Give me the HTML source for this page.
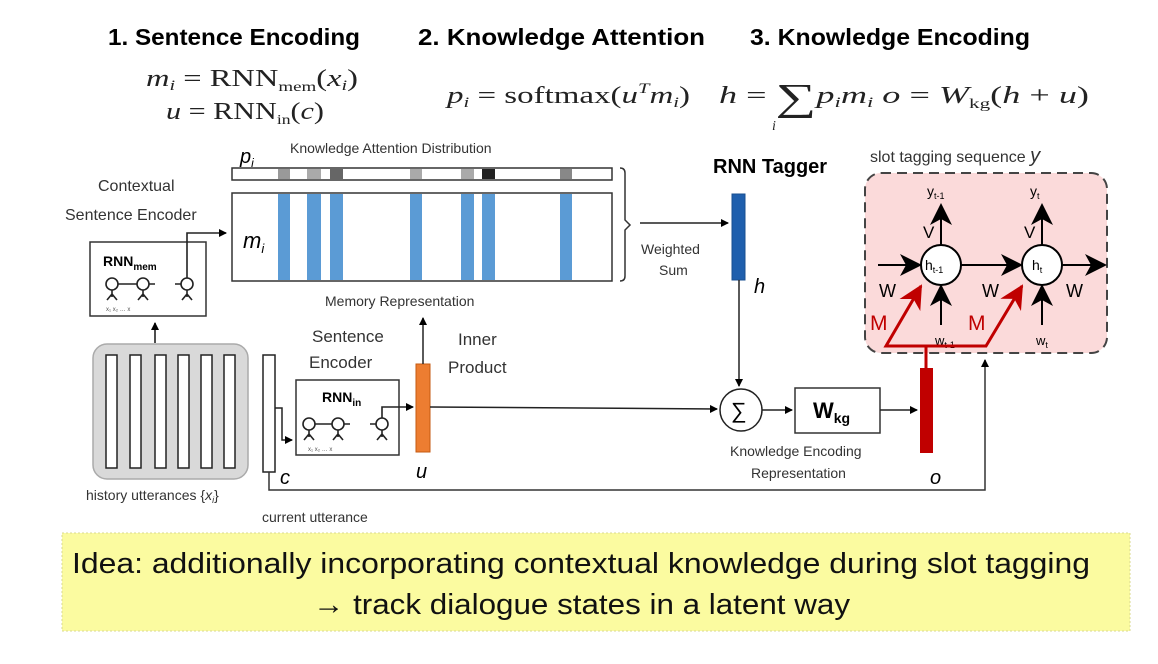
<!DOCTYPE html>
<html><head><meta charset="utf-8"><style>
html,body{margin:0;padding:0;background:#fff;}
svg{display:block;}
text{font-family:"Liberation Sans",sans-serif;}
.s{font-family:"Liberation Serif",serif;}
</style></head><body>
<svg width="1158" height="664" viewBox="0 0 1158 664" xmlns="http://www.w3.org/2000/svg">
<defs>
<marker id="a" markerWidth="8" markerHeight="8" refX="7" refY="4" orient="auto" markerUnits="userSpaceOnUse"><path d="M0,0 L8,4 L0,8 z" fill="#000"/></marker>
<marker id="big" markerWidth="22" markerHeight="22" refX="20" refY="11" orient="auto" markerUnits="userSpaceOnUse"><path d="M0,0 L22,11 L0,22 L6,11 z" fill="#000"/></marker>
<marker id="red" markerWidth="24" markerHeight="24" refX="22" refY="12" orient="auto" markerUnits="userSpaceOnUse"><path d="M0,0 L24,12 L0,24 L7,12 z" fill="#c00000"/></marker>
</defs>
<rect width="1158" height="664" fill="#fff"/>
<text x="108" y="45" font-size="23" font-weight="bold" textLength="252" lengthAdjust="spacingAndGlyphs">1. Sentence Encoding</text>
<text x="418" y="45" font-size="23" font-weight="bold" textLength="287" lengthAdjust="spacingAndGlyphs">2. Knowledge Attention</text>
<text x="750" y="45" font-size="23" font-weight="bold" textLength="280" lengthAdjust="spacingAndGlyphs">3. Knowledge Encoding</text>
<g fill="#222">
<text class="s" x="146" y="86" font-size="24" textLength="212" lengthAdjust="spacingAndGlyphs"><tspan font-style="italic">m</tspan><tspan font-size="15" dy="4" font-style="italic">i</tspan><tspan dy="-4"> = RNN</tspan><tspan font-size="14" dy="5">mem</tspan><tspan dy="-5">(</tspan><tspan font-style="italic">x</tspan><tspan font-size="15" dy="4" font-style="italic">i</tspan><tspan dy="-4">)</tspan></text>
<text class="s" x="166" y="119" font-size="24" textLength="158" lengthAdjust="spacingAndGlyphs"><tspan font-style="italic">u</tspan> = RNN<tspan font-size="14" dy="5">in</tspan><tspan dy="-5">(</tspan><tspan font-style="italic">c</tspan>)</text>
<text class="s" x="447" y="103" font-size="24" textLength="243" lengthAdjust="spacingAndGlyphs"><tspan font-style="italic">p</tspan><tspan font-size="15" dy="4" font-style="italic">i</tspan><tspan dy="-4"> = softmax(</tspan><tspan font-style="italic">u</tspan><tspan font-size="15" dy="-10" font-style="italic">T</tspan><tspan dy="10" font-style="italic">m</tspan><tspan font-size="15" dy="4" font-style="italic">i</tspan><tspan dy="-4">)</tspan></text>
<text class="s" x="719" y="103" font-size="24" textLength="370" lengthAdjust="spacingAndGlyphs"><tspan font-style="italic">h</tspan> = <tspan font-size="38" dy="7">∑</tspan><tspan dy="-7" font-style="italic">p</tspan><tspan font-size="15" dy="4" font-style="italic">i</tspan><tspan dy="-4" font-style="italic">m</tspan><tspan font-size="15" dy="4" font-style="italic">i</tspan><tspan dy="-4">  </tspan><tspan font-style="italic">o</tspan> = <tspan font-style="italic">W</tspan><tspan font-size="14" dy="5">kg</tspan><tspan dy="-5">(</tspan><tspan font-style="italic">h</tspan> + <tspan font-style="italic">u</tspan>)</text>
<text class="s" x="772" y="130" font-size="14" font-style="italic">i</text>
</g>
<text x="240" y="163" font-size="20" font-style="italic">p<tspan font-size="12" dy="4">i</tspan></text>
<text x="290" y="153" font-size="14" fill="#333">Knowledge Attention Distribution</text>
<rect x="232" y="168" width="380" height="12" fill="#fff" stroke="#333" stroke-width="1.5"/>
<g>
<rect x="278" y="169" width="12" height="10" fill="#999"/>
<rect x="307" y="169" width="14" height="10" fill="#aaa"/>
<rect x="330" y="169" width="13" height="10" fill="#666"/>
<rect x="410" y="169" width="12" height="10" fill="#aaa"/>
<rect x="461" y="169" width="13" height="10" fill="#aaa"/>
<rect x="482" y="169" width="13" height="10" fill="#222"/>
<rect x="560" y="169" width="12" height="10" fill="#888"/>
</g>
<rect x="232" y="193" width="380" height="88" fill="#fff" stroke="#333" stroke-width="1.5"/>
<g fill="#5b9bd5">
<rect x="278" y="194" width="12" height="86"/>
<rect x="307" y="194" width="14" height="86"/>
<rect x="330" y="194" width="13" height="86"/>
<rect x="410" y="194" width="12" height="86"/>
<rect x="461" y="194" width="13" height="86"/>
<rect x="482" y="194" width="13" height="86"/>
<rect x="560" y="194" width="12" height="86"/>
</g>
<text x="243" y="248" font-size="22" font-style="italic">m<tspan font-size="13" dy="5">i</tspan></text>
<path d="M620,168 Q625,168 625,173 L625,220 L630,225 L625,230 L625,276 Q625,281 620,281" fill="none" stroke="#333" stroke-width="1.5"/>
<text x="325" y="306" font-size="14" fill="#333">Memory Representation</text>
<text x="98" y="191" font-size="16" fill="#333">Contextual</text>
<text x="65" y="220" font-size="16" fill="#333">Sentence Encoder</text>
<rect x="90" y="242" width="116" height="74" fill="#fff" stroke="#333" stroke-width="1.5"/>
<text x="103" y="266" font-size="14" font-weight="bold">RNN<tspan font-size="10" dy="4">mem</tspan></text>
<g fill="none" stroke="#222" stroke-width="1.6">
<circle cx="112" cy="284" r="6"/><circle cx="143" cy="284" r="6"/><circle cx="187" cy="284" r="6"/>
<path d="M118,284 L137,284 M149,284 L155,284 M175,284 L181,284 M112,290 L112,297 M107,300 L112,294 L117,300 M143,290 L143,297 M138,300 L143,294 L148,300 M187,290 L187,297 M182,300 L187,294 L192,300"/>
<path d="M187,278 L187,233 L226,233" marker-end="url(#a)"/>
<path d="M155,343 L155,323" marker-end="url(#a)"/>
</g>
<text x="106" y="311" font-size="6" fill="#555">x₁    x₂        … x</text>
<rect x="93" y="344" width="155" height="135" rx="14" fill="#d9d9d9" stroke="#aaa" stroke-width="1.5"/>
<g fill="#fff" stroke="#222" stroke-width="1.5">
<rect x="106" y="355" width="11" height="113"/><rect x="130" y="355" width="11" height="113"/><rect x="155" y="355" width="11" height="113"/><rect x="178" y="355" width="11" height="113"/><rect x="201" y="355" width="11" height="113"/><rect x="224" y="355" width="11" height="113"/>
</g>
<text x="86" y="500" font-size="14" fill="#333">history utterances {<tspan font-style="italic">x</tspan><tspan font-size="9" dy="3" font-style="italic">i</tspan><tspan dy="-3">}</tspan></text>
<rect x="263" y="355" width="12" height="117" fill="#fff" stroke="#222" stroke-width="1.5"/>
<text x="280" y="484" font-size="20" font-style="italic">c</text>
<text x="262" y="522" font-size="14" fill="#333">current utterance</text>
<path d="M275,408 L282,408 L282,440 L292,440" fill="none" stroke="#222" stroke-width="1.5" marker-end="url(#a)"/>
<path d="M269,472 L269,490 L985,490 L985,360" fill="none" stroke="#333" stroke-width="1.5" marker-end="url(#a)"/>
<text x="312" y="342" font-size="17" fill="#333">Sentence</text>
<text x="309" y="368" font-size="17" fill="#333">Encoder</text>
<rect x="296" y="380" width="103" height="75" fill="#fff" stroke="#333" stroke-width="1.5"/>
<text x="322" y="402" font-size="14" font-weight="bold">RNN<tspan font-size="10" dy="4">in</tspan></text>
<g fill="none" stroke="#222" stroke-width="1.6">
<circle cx="309" cy="424" r="6"/><circle cx="338" cy="424" r="6"/><circle cx="382" cy="424" r="6"/>
<path d="M315,424 L332,424 M344,424 L350,424 M370,424 L376,424 M309,430 L309,437 M304,440 L309,434 L314,440 M338,430 L338,437 M333,440 L338,434 L343,440 M382,430 L382,437 M377,440 L382,434 L387,440"/>
<path d="M382,418 L382,407 L413,407" marker-end="url(#a)"/>
</g>
<text x="308" y="451" font-size="6" fill="#555">x₁    x₂       … x</text>
<rect x="416" y="364" width="14" height="88" fill="#ed7d31" stroke="#c55a11" stroke-width="1"/>
<text x="416" y="478" font-size="20" font-style="italic">u</text>
<path d="M423,364 L423,318" fill="none" stroke="#222" stroke-width="1.5" marker-end="url(#a)"/>
<text x="458" y="345" font-size="17" fill="#333">Inner</text>
<text x="448" y="373" font-size="17" fill="#333">Product</text>
<path d="M430,407 L717,409" fill="none" stroke="#222" stroke-width="1.5" marker-end="url(#a)"/>
<path d="M640,223 L728,223" fill="none" stroke="#222" stroke-width="1.5" marker-end="url(#a)"/>
<text x="641" y="254" font-size="14" fill="#333">Weighted</text>
<text x="659" y="275" font-size="14" fill="#333">Sum</text>
<text x="713" y="173" font-size="20" font-weight="bold">RNN Tagger</text>
<rect x="732" y="194" width="13" height="86" fill="#1f5fad" stroke="#1a4f90"/>
<text x="754" y="293" font-size="20" font-style="italic">h</text>
<path d="M739,280 L739,386" fill="none" stroke="#222" stroke-width="1.5" marker-end="url(#a)"/>
<circle cx="741" cy="410" r="21" fill="#fff" stroke="#222" stroke-width="1.5"/>
<text x="731" y="418" font-size="22">∑</text>
<path d="M762,410 L792,410" fill="none" stroke="#222" stroke-width="1.5" marker-end="url(#a)"/>
<rect x="795" y="388" width="85" height="45" fill="#fff" stroke="#333" stroke-width="1.5"/>
<text x="813" y="418" font-size="22" font-weight="bold">W<tspan font-size="14" dy="5">kg</tspan></text>
<path d="M880,410 L917,410" fill="none" stroke="#222" stroke-width="1.5" marker-end="url(#a)"/>
<text x="730" y="456" font-size="14" fill="#333">Knowledge Encoding</text>
<text x="751" y="478" font-size="14" fill="#333">Representation</text>
<text x="870" y="162" font-size="16" fill="#333">slot tagging sequence <tspan font-style="italic" font-size="20">y</tspan></text>
<rect x="865" y="173" width="242" height="180" rx="16" fill="#fbdada" stroke="#444" stroke-width="2" stroke-dasharray="10,6"/>
<g fill="none" stroke="#000" stroke-width="2">
<path d="M878,265 L920,265" marker-end="url(#big)"/>
<path d="M961,265 L1021,265" marker-end="url(#big)"/>
<path d="M1062,265 L1105,265" marker-end="url(#big)"/>
<path d="M941,245 L941,205" marker-end="url(#big)"/>
<path d="M1042,245 L1042,205" marker-end="url(#big)"/>
<path d="M941,325 L941,286" marker-end="url(#big)"/>
<path d="M1042,325 L1042,286" marker-end="url(#big)"/>
</g>
<circle cx="941" cy="265" r="20" fill="#fff" stroke="#000" stroke-width="2"/>
<circle cx="1042" cy="265" r="20" fill="#fff" stroke="#000" stroke-width="2"/>
<text x="925" y="270" font-size="14">h<tspan font-size="9" dy="3">t-1</tspan></text>
<text x="1032" y="270" font-size="14">h<tspan font-size="9" dy="3">t</tspan></text>
<text x="927" y="196" font-size="14">y<tspan font-size="9" dy="3">t-1</tspan></text>
<text x="1030" y="196" font-size="14">y<tspan font-size="9" dy="3">t</tspan></text>
<text x="923" y="238" font-size="17">V</text><text x="1024" y="238" font-size="17">V</text>
<text x="879" y="297" font-size="18">W</text><text x="982" y="297" font-size="18">W</text><text x="1066" y="297" font-size="18">W</text>
<text x="935" y="345" font-size="13">w<tspan font-size="9" dy="3">t-1</tspan></text>
<text x="1036" y="345" font-size="13">w<tspan font-size="9" dy="3">t</tspan></text>
<g fill="none" stroke="#c00000" stroke-width="3">
<path d="M926,368 L926,346 L886,346 L921,286" marker-end="url(#red)"/>
<path d="M926,346 L986,346 L1022,286" marker-end="url(#red)"/>
</g>
<text x="870" y="330" font-size="21" fill="#c00000">M</text>
<text x="968" y="330" font-size="21" fill="#c00000">M</text>
<rect x="920" y="368" width="13" height="85" fill="#c00000"/>
<text x="930" y="484" font-size="20" font-style="italic">o</text>
<rect x="62" y="533" width="1068" height="98" fill="#fbfba0" stroke="#d8d890" stroke-width="1" stroke-dasharray="2,2"/>
<text x="72" y="573" font-size="29" fill="#111" textLength="1018" lengthAdjust="spacingAndGlyphs">Idea: additionally incorporating contextual knowledge during slot tagging</text>
<text x="313" y="614" font-size="29" fill="#111" textLength="537" lengthAdjust="spacingAndGlyphs">→ track dialogue states in a latent way</text>
</svg>
</body></html>
